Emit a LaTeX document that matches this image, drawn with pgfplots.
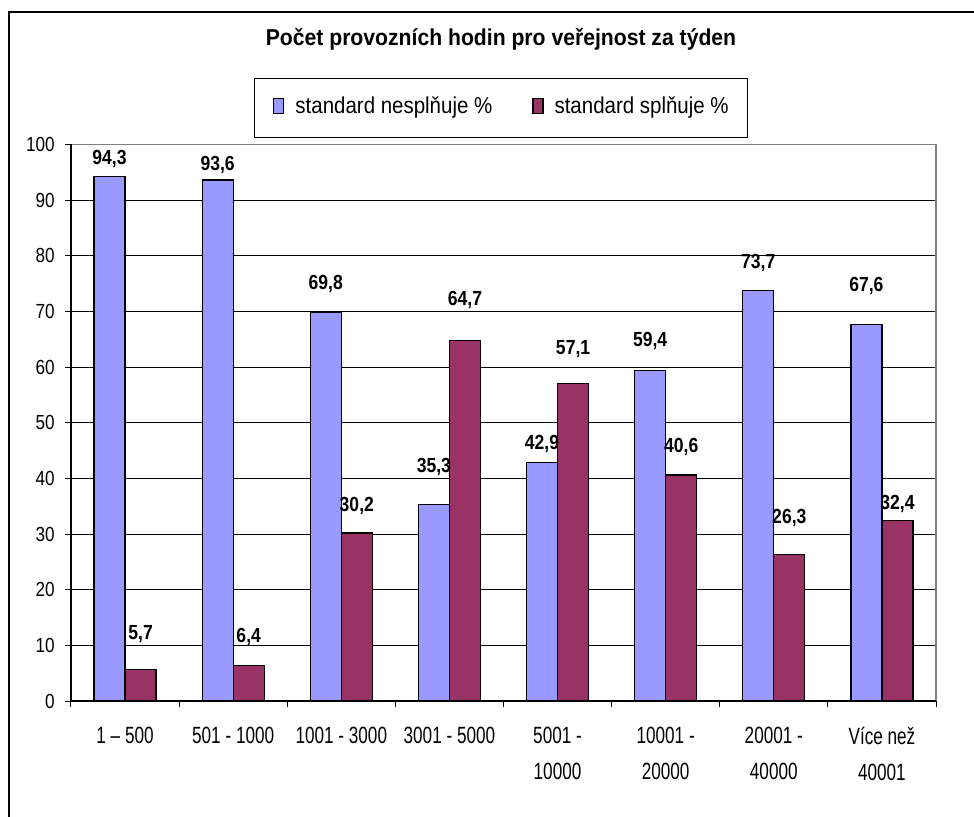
\documentclass[border=0pt]{standalone}
\usepackage{fontspec}
\setmainfont{Liberation Sans}
\newfontfamily\ftitle[FakeStretch=0.92]{Liberation Sans}
\newfontfamily\flegend[FakeStretch=0.89]{Liberation Sans}
\newfontfamily\fxtick[FakeStretch=0.73]{Liberation Sans}
\newfontfamily\fytick[FakeStretch=0.84]{Liberation Sans}
\newfontfamily\fval[FakeStretch=0.86]{Liberation Sans}
\usepackage{pgfplots}
\usepackage{pgfplotstable}
\pgfplotsset{compat=1.18}
\definecolor{cblue}{HTML}{9999FF}
\definecolor{cred}{HTML}{993366}
\definecolor{cgray}{HTML}{808080}

\pgfplotstableread{
x y ly
0 94.3 96.4
1 93.6 95.3
2 69.8 73.8
3 35.3 40.9
4 42.9 45.1
5 59.4 63.6
6 73.7 77.7
7 67.6 73.5
}\tblue
\pgfplotstableread{
x y ly
0 5.7 11.0
1 6.4 10.5
2 30.2 34.0
3 64.7 71.0
4 57.1 62.1
5 40.6 44.5
6 26.3 31.8
7 32.4 34.3
}\tred

\begin{document}
\begin{tikzpicture}
\path[use as bounding box] (-35.5pt,-57.5pt) rectangle (451.5pt,350.5pt);
\clip (-35.5pt,-57.5pt) rectangle (451.5pt,350.5pt);
\draw[black, line width=0.6pt] (-31pt,-90pt) rectangle (480pt,344.5pt);
\begin{axis}[
  at={(0pt,0pt)}, anchor=south west,
  scale only axis, width=432.5pt, height=278.3pt,
  xmin=-0.5, xmax=7.5, ymin=0, ymax=100,
  axis line style={draw=none},
  tick pos=left, tick align=outside,
  tick style={black, line width=0.5pt},
  major tick length=3pt,
  ytick={0,10,...,100},
  ymajorgrids, grid style={black, line width=0.5pt},
  /pgf/number format/assume math mode=true,
  yticklabel style={font=\fytick\fontsize{10.2}{12}\selectfont, anchor=east, inner sep=0pt, xshift=-5pt},
  xtick={-0.5,0.5,1.5,2.5,3.5,4.5,5.5,6.5,7.5},
  xticklabels={{},{},{},{},{},{},{},{},{}},
  extra x ticks={0,1,2,3,4,5,6,7},
  extra x tick labels={{1 – 500},{501 - 1000},{1001 - 3000},{3001 - 5000},{5001 -\\10000},{10001 -\\20000},{20001 -\\40000},{Více než\\40001}},
  extra x tick style={major tick length=0pt, grid=none},
  xticklabel style={font=\fxtick\fontsize{11.75}{18}\selectfont, align=center, anchor=north, inner sep=0pt, yshift=-13pt},
  legend style={at={(0.4971,1.0661)}, anchor=center, draw=black, line width=0.5pt,
    font=\flegend\fontsize{11.5}{13}\selectfont, inner xsep=9.5pt, inner ysep=9.25pt,
    nodes={inner sep=0pt, text height=8.5pt, text depth=2.5pt},
    /tikz/every odd column/.append style={column sep=5.5pt},
    /tikz/every even column/.append style={column sep=20pt}},
  legend columns=2,
]
\addlegendimage{legend image code/.code={\draw[fill=cblue,draw=black,line width=0.6pt] (0pt,-3pt) rectangle (5pt,4.5pt);}}
\addlegendimage{legend image code/.code={\draw[fill=cred,draw=black,line width=0.6pt] (0pt,-3pt) rectangle (5pt,4.5pt);}}
\addplot[ybar, forget plot, bar width=0.2868, bar shift=-0.1434, fill=cblue, draw=black, line width=0.6pt] table[x=x, y=y] {\tblue};
\addplot[ybar, forget plot, bar width=0.2868, bar shift=0.1434, fill=cred, draw=black, line width=0.6pt] table[x=x, y=y] {\tred};
\addplot[forget plot, draw=none, mark=none, point meta=explicit,
  nodes near coords={\fval\bfseries\fontsize{10.2}{11}\selectfont\pgfmathprintnumber[fixed,fixed zerofill,precision=1,use comma,assume math mode=true]{\pgfplotspointmeta}},
  every node near coord/.append style={anchor=south, inner sep=0pt, text depth=0pt}]
  table[x expr=\thisrow{x}-0.1434, y=ly, meta=y] {\tblue};
\addplot[forget plot, draw=none, mark=none, point meta=explicit,
  nodes near coords={\fval\bfseries\fontsize{10.2}{11}\selectfont\pgfmathprintnumber[fixed,fixed zerofill,precision=1,use comma,assume math mode=true]{\pgfplotspointmeta}},
  every node near coord/.append style={anchor=south, inner sep=0pt, text depth=0pt}]
  table[x expr=\thisrow{x}+0.1434, y=ly, meta=y] {\tred};
\legend{standard nesplňuje \%, standard splňuje \%}
\end{axis}
\draw[cgray, line width=0.6pt] (0pt,278.3pt) -- (432.5pt,278.3pt) -- (432.5pt,0pt);
\draw[black, line width=0.6pt] (0pt,278.3pt) -- (0pt,0pt) -- (432.5pt,0pt);
\node[font=\ftitle\bfseries\fontsize{11.5}{13}\selectfont, anchor=base] at (215pt,327.65pt) {Počet provozních hodin pro veřejnost za týden};
\end{tikzpicture}
\end{document}
